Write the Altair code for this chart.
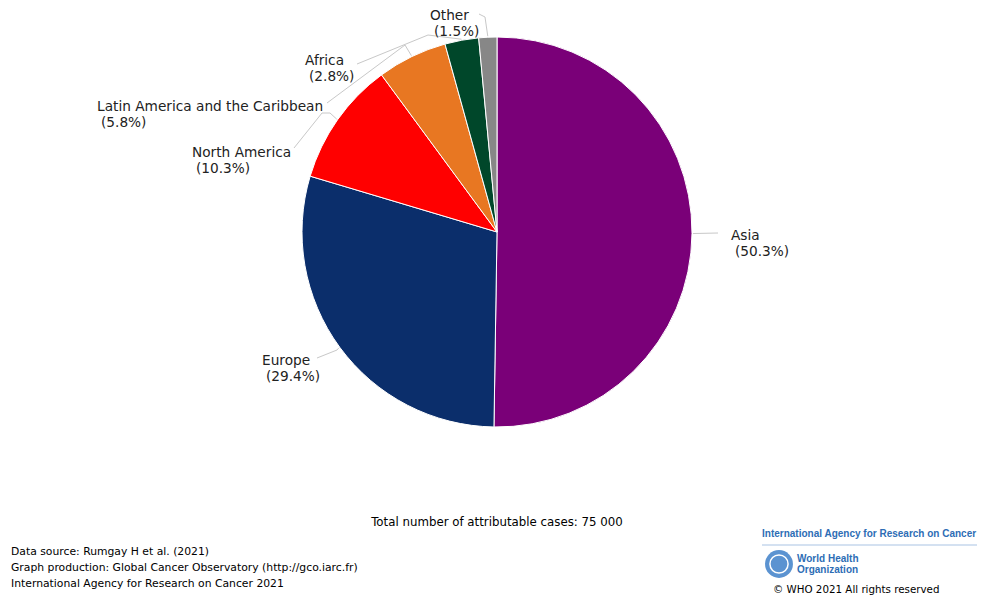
import math
import altair as alt
import pandas as pd

# ---------------- data ----------------
regions = ["Asia", "Europe", "North America", "Latin America and the Caribbean", "Africa", "Other"]
shares = [50.3, 29.4, 10.3, 5.8, 2.8, 1.5]
colors = ["#7A0078", "#0B2E6B", "#FF0000", "#E87722", "#00472A", "#878787"]

footer_lines = [
    "Data source: Rumgay H et al. (2021)",
    "Graph production: Global Cancer Observatory (http://gco.iarc.fr)",
    "International Agency for Research on Cancer 2021",
]
total_text = "Total number of attributable cases: 75 000"

# ---------------- layout (page pixels) ----------------
OFF = 8
W, H = 969, 587
CX, CY, R = 497, 232, 195

# label: left x of name line, centre y of name line
label_pos = {
    "Asia": (731, 236),
    "Europe": (262, 361),
    "North America": (192, 153),
    "Latin America and the Caribbean": (97, 107),
    "Africa": (305, 61),
    "Other": (430, 16),
}
# connector bends (from label end towards slice); final point comes from slice angle
conn_bends = {
    "Asia": [(718, 233)],
    "Europe": [(317, 358), (337, 350)],
    "North America": [(294, 148), (322, 113), (330, 113)],
    "Latin America and the Caribbean": [(327, 103), (405, 45)],
    "Africa": [(357, 64), (428, 35)],
    "Other": [(479, 14), (485, 17)],
}

total = sum(shares)
pie_df = pd.DataFrame({
    "region": regions,
    "share": shares,
    "idx": list(range(len(regions))),
})

lab_rows, line_rows = [], []
cum = 0.0
for reg, s in zip(regions, shares):
    mid = (cum + s / 2) / total * 2 * math.pi
    cum += s
    ex = CX + (R + 1) * math.sin(mid)
    ey = CY - (R + 1) * math.cos(mid)
    lx, ly = label_pos[reg]
    lab_rows.append({"t": reg, "x": lx - OFF, "y": ly - OFF})
    lab_rows.append({"t": "(" + f"{s:.1f}" + "%)", "x": lx + 4 - OFF, "y": ly + 16 - OFF})
    pts = conn_bends[reg] + [(ex, ey)]
    for k, (px, py) in enumerate(pts):
        line_rows.append({"region": reg, "k": k, "x": px - OFF, "y": py - OFF})

lab_df = pd.DataFrame(lab_rows)
line_df = pd.DataFrame(line_rows)

pie = alt.Chart(pie_df).mark_arc(outerRadius=R, stroke="white", strokeWidth=1).encode(
    theta=alt.Theta("share:Q", stack=True),
    order=alt.Order("idx:Q"),
    color=alt.Color("region:N", scale=alt.Scale(domain=regions, range=colors), legend=None),
    x=alt.value(CX - OFF),
    y=alt.value(CY - OFF),
)

conn = alt.Chart(line_df).mark_line(color="#c8c8c8", strokeWidth=1).encode(
    x=alt.X("x:Q", scale=None, axis=None),
    y=alt.Y("y:Q", scale=None, axis=None),
    detail="region:N",
    order="k:Q",
)

labels = alt.Chart(lab_df).mark_text(
    align="left", baseline="middle", font="DejaVu Sans", fontSize=13.7, color="#222222",
).encode(
    x=alt.X("x:Q", scale=None, axis=None),
    y=alt.Y("y:Q", scale=None, axis=None),
    text="t:N",
)

foot_df = pd.DataFrame({"t": footer_lines, "x": [11 - OFF] * 3,
                        "y": [y - OFF for y in (552, 568, 584)]})
footer = alt.Chart(foot_df).mark_text(
    align="left", baseline="middle", font="DejaVu Sans", fontSize=10.8, color="#000000"
).encode(x=alt.X("x:Q", scale=None), y=alt.Y("y:Q", scale=None), text="t:N")

tot_df = pd.DataFrame({"t": [total_text], "x": [497 - OFF], "y": [522 - OFF]})
tot = alt.Chart(tot_df).mark_text(
    align="center", baseline="middle", font="DejaVu Sans", fontSize=11.8, color="#000000"
).encode(x=alt.X("x:Q", scale=None), y=alt.Y("y:Q", scale=None), text="t:N")

# logo block
BLUE = "#2D6DB5"
logo_title = alt.Chart(pd.DataFrame({"t": ["International Agency for Research on Cancer"],
                                     "x": [762 - OFF], "y": [534 - OFF]})).mark_text(
    align="left", baseline="middle", font="Liberation Sans", fontWeight="bold",
    fontSize=10.0, color=BLUE,
).encode(x=alt.X("x:Q", scale=None), y=alt.Y("y:Q", scale=None), text="t:N")

logo_rule = alt.Chart(pd.DataFrame({"x": [762 - OFF], "x2": [984 - OFF], "y": [545 - OFF]})).mark_rule(
    color="#A9C3E3", strokeWidth=1
).encode(x=alt.X("x:Q", scale=None), x2="x2:Q", y=alt.Y("y:Q", scale=None))

emblem = alt.Chart(pd.DataFrame({"x": [779 - OFF], "y": [564 - OFF]})).mark_point(
    filled=True, size=780, color="#5B93D1", opacity=1
).encode(x=alt.X("x:Q", scale=None), y=alt.Y("y:Q", scale=None))
emblem_in = alt.Chart(pd.DataFrame({"x": [779 - OFF], "y": [564 - OFF]})).mark_point(
    filled=False, size=330, color="white", strokeWidth=1.5, opacity=1
).encode(x=alt.X("x:Q", scale=None), y=alt.Y("y:Q", scale=None))

who_df = pd.DataFrame({"t": ["World Health", "Organization"], "x": [797 - OFF] * 2,
                       "y": [559 - OFF, 570 - OFF]})
who = alt.Chart(who_df).mark_text(
    align="left", baseline="middle", font="Liberation Sans", fontWeight="bold",
    fontSize=10, color=BLUE,
).encode(x=alt.X("x:Q", scale=None), y=alt.Y("y:Q", scale=None), text="t:N")

copy_df = pd.DataFrame({"t": ["\u00a9 WHO 2021 All rights reserved"], "x": [773 - OFF], "y": [589.5 - OFF]})
copyr = alt.Chart(copy_df).mark_text(
    align="left", baseline="middle", font="DejaVu Sans", fontSize=10.3, color="#000000"
).encode(x=alt.X("x:Q", scale=None), y=alt.Y("y:Q", scale=None), text="t:N")

chart = alt.layer(
    pie, conn, labels, footer, tot, logo_title, logo_rule, emblem, emblem_in, who, copyr
).properties(
    width=W, height=H, padding=0, autosize=alt.AutoSizeParams(type="none")
).configure_view(stroke=None)

chart.save("out.html", embed_options={"renderer": "svg", "actions": False})
